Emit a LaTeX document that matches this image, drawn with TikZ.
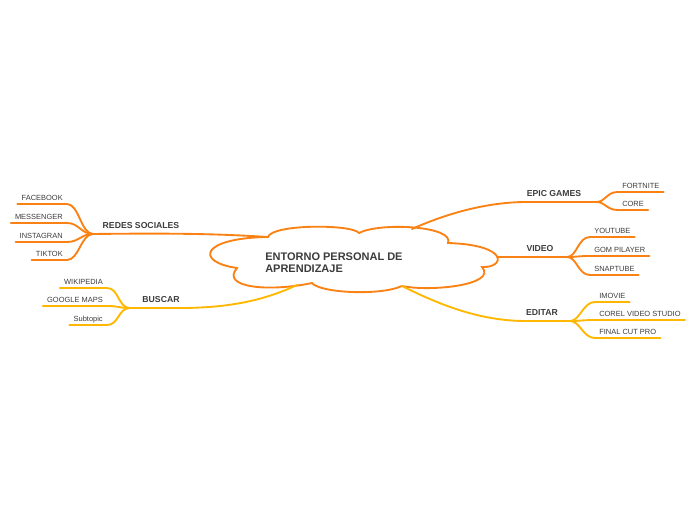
\documentclass[tikz,border=0pt]{standalone}
\usepackage{fontspec}
\setmainfont{Liberation Sans}
\definecolor{naranja}{RGB}{250,130,20}
\definecolor{ambar}{RGB}{255,183,0}
\definecolor{texto}{RGB}{60,60,60}
\tikzset{
  nube/.style  = {draw=naranja, line width=1.4pt, fill=white},
  rama/.style  = {line width=1.4pt, line cap=round},
  tema/.style  = {font=\bfseries\fontsize{6.5}{7}\selectfont, text=texto, inner xsep=0pt, inner ysep=4pt, text depth=0pt},
  hoja/.style  = {font=\fontsize{5.6}{6}\selectfont, text=texto, inner xsep=3pt, inner ysep=2.6pt, text depth=0pt},
  titulo/.style= {font=\bfseries\fontsize{8.25}{9}\selectfont, text=texto, align=left, inner sep=0pt}
}

\begin{document}
\begin{tikzpicture}[x=0.75pt, y=-0.75pt]
  \useasboundingbox (0,0) rectangle (696,520);

  % nube central
  \draw[nube] (237,268) .. controls (195,262) and (200,238) .. (268,237)
    .. controls (272,224) and (352,224) .. (359,233)
    .. controls (380,222) and (455,226) .. (448,243)
    .. controls (510,245) and (505,268) .. (482,267)
    .. controls (498,285) and (430,292) .. (402,286)
    .. controls (380,296) and (320,293) .. (312,283)
    .. controls (270,292) and (220,288) .. (237,268) -- cycle;
  \node[titulo, anchor=west] (centro) at (265,263) {ENTORNO PERSONAL DE\\APRENDIZAJE};

  \coordinate (cRS) at (268,237);
  \coordinate (cBU) at (297,285);
  \coordinate (cEP) at (412,229);
  \coordinate (cVI) at (497,257);
  \coordinate (cED) at (402,286);

  % temas
  \node[tema, anchor=south] (rs) at (141,234) {REDES SOCIALES};
  \node[tema, anchor=south] (bu) at (161,308) {BUSCAR};
  \node[tema, anchor=south] (ep) at (554,202) {EPIC GAMES};
  \node[tema, anchor=south] (vi) at (540,257) {VIDEO};
  \node[tema, anchor=south] (ed) at (542,321) {EDITAR};

  \coordinate (rsHub) at (93,234);
  \coordinate (buHub) at (130,308);
  \coordinate (epHub) at (596,202);
  \coordinate (viHub) at (567,257);
  \coordinate (edHub) at (570,321);

  \draw[rama, naranja] (cRS) .. controls (220,234) and (180,233) .. (rsHub);
  \draw[rama, ambar] (cBU) .. controls (265,300) and (230,308) .. (bu.south east) -- (buHub);
  \draw[rama, naranja] (cEP) .. controls (450,212) and (490,202) .. (ep.south west) -- (epHub);
  \draw[rama, naranja] (cVI) -- (viHub);
  \draw[rama, ambar] (cED) .. controls (440,305) and (480,321) .. (ed.south west) -- (edHub);

  % hojas izquierda
  \node[hoja, anchor=south east] (fb) at (67,204) {FACEBOOK};
  \node[hoja, anchor=south east] (ms) at (67,223) {MESSENGER};
  \node[hoja, anchor=south east] (ig) at (67,242) {INSTAGRAN};
  \node[hoja, anchor=south east] (tt) at (67,260) {TIKTOK};
  \foreach \h in {fb,ms,ig,tt}
    \draw[rama, naranja] (rsHub) .. controls +(-12,0) and +(12,0) .. (\h.south east) -- (\h.south west);

  \node[hoja, anchor=south east] (wk) at (107,288) {WIKIPEDIA};
  \node[hoja, anchor=south east] (gm) at (107,306) {GOOGLE MAPS};
  \node[hoja, anchor=south east] (st) at (107,325) {Subtopic};
  \foreach \h in {wk,gm,st}
    \draw[rama, ambar] (buHub) .. controls +(-12,0) and +(12,0) .. (\h.south east) -- (\h.south west);

  % hojas derecha
  \node[hoja, anchor=south west] (fn) at (618,192) {FORTNITE};
  \node[hoja, anchor=south west] (co) at (618,210) {CORE};
  \foreach \h in {fn,co}
    \draw[rama, naranja] (epHub) .. controls +(10,0) and +(-12,0) .. (\h.south west) -- (\h.south east);

  \node[hoja, anchor=south west] (yt) at (590,237) {YOUTUBE};
  \node[hoja, anchor=south west] (gp) at (590,256) {GOM PILAYER};
  \node[hoja, anchor=south west] (sn) at (590,275) {SNAPTUBE};
  \foreach \h in {yt,gp,sn}
    \draw[rama, naranja] (viHub) .. controls +(10,0) and +(-12,0) .. (\h.south west) -- (\h.south east);

  \node[hoja, anchor=south west] (im) at (595,302) {IMOVIE};
  \node[hoja, anchor=south west] (cv) at (595,320) {COREL VIDEO STUDIO};
  \node[hoja, anchor=south west] (fc) at (595,338) {FINAL CUT PRO};
  \foreach \h in {im,cv,fc}
    \draw[rama, ambar] (edHub) .. controls +(10,0) and +(-12,0) .. (\h.south west) -- (\h.south east);
\end{tikzpicture}
\end{document}
